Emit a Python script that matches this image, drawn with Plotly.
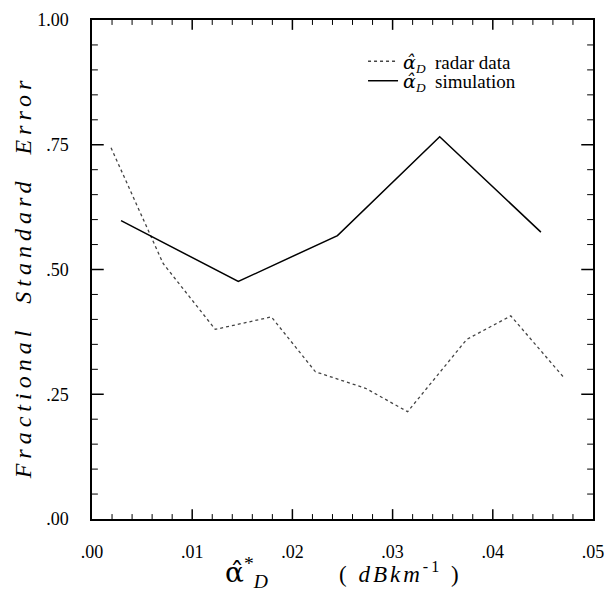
import plotly.graph_objects as go

# ---- data ----
radar_x = [0.0019, 0.0071, 0.0123, 0.0179, 0.0223, 0.0273, 0.0315, 0.0374, 0.0418, 0.0472]
radar_y = [0.744, 0.512, 0.380, 0.405, 0.295, 0.262, 0.215, 0.360, 0.407, 0.281]

sim_x = [0.0029, 0.0146, 0.0245, 0.0347, 0.0448]
sim_y = [0.598, 0.476, 0.568, 0.766, 0.575]

x_tick_raw = ["0.00", "0.01", "0.02", "0.03", "0.04", "0.05"]
x_ticktext = [".00", ".01", ".02", ".03", ".04", ".05"]
y_tick_raw = ["0.00", "0.25", "0.50", "0.75", "1.00"]
y_ticktext = [".00", ".25", ".50", ".75", "1.00"]

# tick-mark positions (axis units)
x_major_marks = [0.01, 0.02, 0.03, 0.04]
x_minor_marks = [0.002, 0.004, 0.006, 0.008, 0.012, 0.014, 0.016, 0.018,
                 0.022, 0.024, 0.026, 0.028, 0.032, 0.034, 0.036, 0.038,
                 0.042, 0.044, 0.046, 0.048]
y_major_marks = [0.25, 0.5, 0.75]
y_minor_marks = [0.05, 0.10, 0.15, 0.20, 0.30, 0.35, 0.40, 0.45,
                 0.55, 0.60, 0.65, 0.70, 0.80, 0.85, 0.90, 0.95]

ALPHA = '<span style="font-family:DejaVu Serif">α̂</span>'
ALPHA_I = '<span style="font-family:DejaVu Serif;font-style:italic">α̂</span>'
legend_radar = ALPHA_I + "<sub><i>D</i></sub>\u00a0\u00a0radar data"
legend_sim = ALPHA_I + "<sub><i>D</i></sub>\u00a0\u00a0simulation"
y_title = "Fractional  Standard  Error"
x_title_sym = ALPHA + "<sup>*</sup><sub><i>D</i></sub>"
x_title_unit = "( <i>dBkm</i><sup>-1</sup> )"

SERIF = "Liberation Serif, Times New Roman, serif"
PAD = "\u00a0\u00a0\u00a0\u00a0"

X_RANGE = [0, 0.05]
Y_RANGE = [0, 1]
WIDTH, HEIGHT = 614, 601
MARGIN = dict(l=92, r=10, t=13, b=82)
plot_w = WIDTH - MARGIN["l"] - MARGIN["r"]
plot_h = HEIGHT - MARGIN["t"] - MARGIN["b"]
x_per_px = (X_RANGE[1] - X_RANGE[0]) / plot_w
y_per_px = (Y_RANGE[1] - Y_RANGE[0]) / plot_h

fig = go.Figure()
fig.add_trace(go.Scatter(x=radar_x, y=radar_y, mode="lines", name=legend_radar,
                         legend="legend",
                         line=dict(color="#444444", width=1.3, dash="dot")))
fig.add_trace(go.Scatter(x=sim_x, y=sim_y, mode="lines", name=legend_sim,
                         legend="legend2",
                         line=dict(color="black", width=1.5)))


def tick_segments(xmarks, ymarks, xlen_px, ylen_px):
    xs, ys = [], []
    for v in xmarks:
        d = ylen_px * y_per_px
        xs += [v, v, None, v, v, None]
        ys += [Y_RANGE[0], Y_RANGE[0] + d, None, Y_RANGE[1], Y_RANGE[1] - d, None]
    for v in ymarks:
        d = xlen_px * x_per_px
        xs += [X_RANGE[0], X_RANGE[0] + d, None, X_RANGE[1], X_RANGE[1] - d, None]
        ys += [v, v, None, v, v, None]
    return xs, ys


mx, my = tick_segments(x_major_marks, y_major_marks, 12, 10)
nx, ny = tick_segments(x_minor_marks, y_minor_marks, 6, 5)
fig.add_trace(go.Scatter(x=mx, y=my, mode="lines", showlegend=False, hoverinfo="skip",
                         line=dict(color="black", width=1.5), cliponaxis=False))
fig.add_trace(go.Scatter(x=nx, y=ny, mode="lines", showlegend=False, hoverinfo="skip",
                         line=dict(color="black", width=1), cliponaxis=False))

fig.update_xaxes(range=X_RANGE, dtick=0.01, tick0=0, tickmode="linear", tickformat=".2f",
                 showline=True, linecolor="black", linewidth=1.5, mirror=True,
                 showgrid=False, zeroline=False, ticks="",
                 labelalias=dict(zip(x_tick_raw, x_ticktext)),
                 ticklabelstandoff=16,
                 tickfont=dict(family=SERIF, size=18, color="black"))
fig.update_yaxes(range=Y_RANGE, dtick=0.25, tick0=0, tickmode="linear", tickformat=".2f",
                 showline=True, linecolor="black", linewidth=1.5, mirror=True,
                 showgrid=False, zeroline=False, ticks="",
                 labelalias=dict(zip(y_tick_raw, [t + PAD for t in y_ticktext])),
                 tickfont=dict(family=SERIF, size=18, color="black"))

fig.add_annotation(text=y_title, xref="paper", yref="paper", x=-0.137, y=0.484,
                   xanchor="center", yanchor="middle",
                   textangle=-90, showarrow=False,
                   font=dict(family=SERIF, size=24, style="italic", color="black"))
fig.add_annotation(text=x_title_sym, xref="paper", yref="paper", x=0.308, y=-0.108,
                   xanchor="center", yanchor="middle",
                   showarrow=False, font=dict(family=SERIF, size=28, color="black"))
fig.add_annotation(text=x_title_unit, xref="paper", yref="paper", x=0.615, y=-0.108,
                   xanchor="center", yanchor="middle",
                   showarrow=False, font=dict(family=SERIF, size=23, color="black"))

legend_common = dict(xanchor="left", yanchor="middle", bgcolor="rgba(0,0,0,0)",
                     font=dict(family=SERIF, size=19, color="black"),
                     itemwidth=30, borderwidth=0)

fig.update_layout(
    template="simple_white",
    width=WIDTH, height=HEIGHT,
    margin=MARGIN,
    paper_bgcolor="white", plot_bgcolor="white",
    showlegend=True,
    legend=dict(x=0.541, y=0.917, **legend_common),
    legend2=dict(x=0.541, y=0.878, **legend_common),
)

post = """
var gd = document.getElementById('{plot_id}');
gd.querySelectorAll('.annotation-text').forEach(function(t){
  if (t.textContent.indexOf('Fractional') >= 0) { t.style.letterSpacing = '5px'; }
  if (t.textContent.indexOf('dBkm') >= 0) { t.style.letterSpacing = '3px'; }
});
"""

fig.write_html("out.html", post_script=post)
